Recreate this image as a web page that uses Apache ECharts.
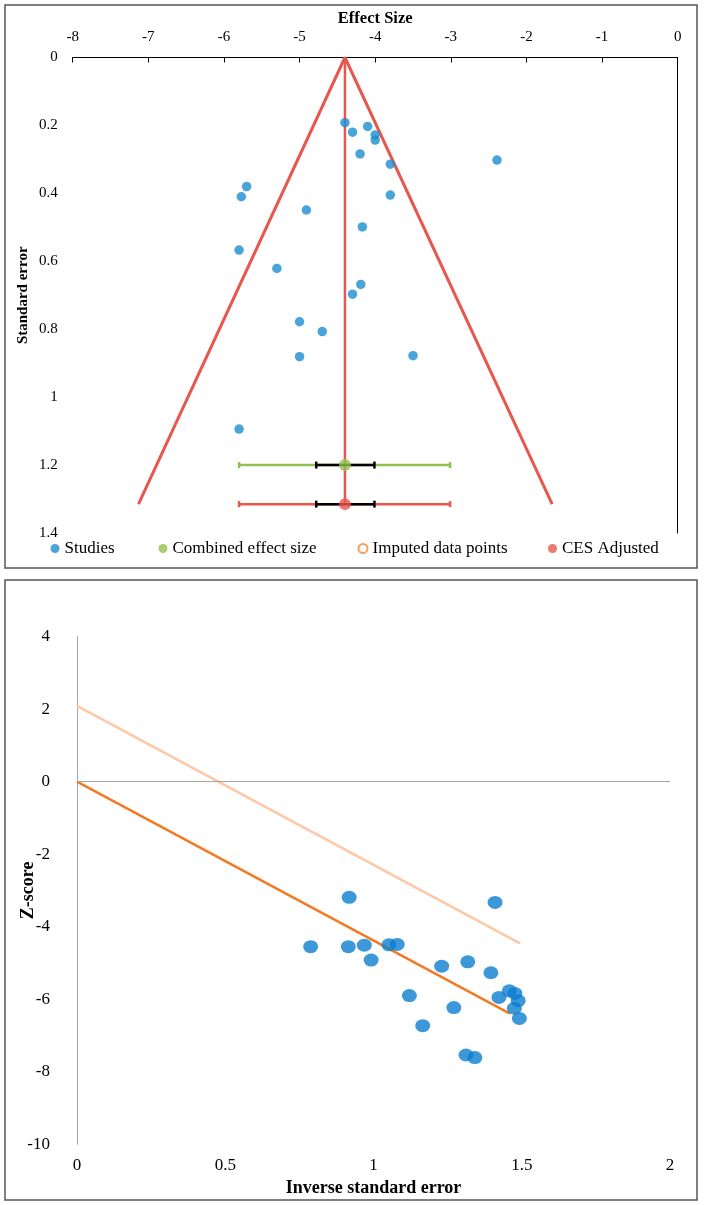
<!DOCTYPE html>
<html>
<head>
<meta charset="utf-8">
<script src="https://cdn.jsdelivr.net/npm/echarts@6/dist/echarts.min.js"></script>
<style>
  html, body { margin: 0; padding: 0; background: #fff; }
  #chart { width: 705px; height: 1205px; }
</style>
</head>
<body>
<div id="chart"></div>
<script>
// ---------- Data: funnel plot (top) ----------
const studyEffect = [-4.40, -4.30, -4.10, -4.00, -4.00, -4.20, -3.80, -2.39, -5.70, -5.77, -3.80,
                     -4.91, -4.17, -5.80, -5.30, -4.19, -4.30, -5.00, -4.70, -5.00, -3.50, -5.80];
const studySE     = [0.192, 0.220, 0.203, 0.228, 0.243, 0.284, 0.314, 0.302, 0.380, 0.410, 0.405,
                     0.449, 0.499, 0.567, 0.621, 0.668, 0.697, 0.778, 0.807, 0.881, 0.878, 1.094];
// combined effect size: [effect, se]; CI and prediction interval [low, high]
const combinedPoint = [-4.40, 1.20];
const combinedCI    = [-4.78, -4.01];
const combinedPI    = [-5.80, -3.01];
// CES adjusted
const adjustedPoint = [-4.40, 1.315];
const adjustedCI    = [-4.78, -4.01];
const adjustedPI    = [-5.80, -3.01];
// funnel outline
const funnelX  = [-7.13, -4.40, -1.66];
const funnelSE = [1.315, 0, 1.315];
const imputedEffect = [];
const imputedSE = [];

// ---------- Data: Galbraith-type plot (bottom) ----------
const invSE  = [0.788, 0.915, 0.918, 0.969, 0.992, 1.052, 1.080, 1.121, 1.166, 1.230, 1.271,
                1.318, 1.312, 1.342, 1.396, 1.410, 1.423, 1.458, 1.477, 1.488, 1.475, 1.492];
const zScore = [-4.55, -4.55, -3.19, -4.51, -4.92, -4.50, -4.49, -5.90, -6.73, -5.09, -6.23,
                -4.97, -7.54, -7.61, -5.27, -3.33, -5.95, -5.77, -5.84, -6.04, -6.25, -6.53];
const regLineX   = [0, 1.46];
const regLineY   = [0, -6.40];
const upperLineX = [0, 1.494];
const upperLineY = [2.09, -4.46];

// ---------- Build ----------
const zip = (a, b) => a.map((v, i) => [v, b[i]]);
const SERIF = '"Liberation Serif", "DejaVu Serif", serif';
const RED = '#E8574F', GREEN = '#92C050', BLUE = '#1B8DCF', ORANGE = '#F37A22';

function errorBarSeries(pi, ci, y, color) {
  return {
    type: 'custom', xAxisIndex: 0, yAxisIndex: 0, silent: true, z: 4,
    data: [[pi[0], pi[1], y, ci[0], ci[1]]],
    encode: { x: [0, 1], y: 2 },
    renderItem: function (params, api) {
      const yv = api.value(2);
      const a = api.coord([api.value(0), yv]);
      const b = api.coord([api.value(1), yv]);
      const c = api.coord([api.value(3), yv]);
      const d = api.coord([api.value(4), yv]);
      const cap = 3;
      const ls = { stroke: color, lineWidth: 2.5 };
      const ks = { stroke: '#000', lineWidth: 2.5 };
      return {
        type: 'group',
        children: [
          { type: 'line', shape: { x1: a[0], y1: a[1], x2: b[0], y2: b[1] }, style: ls },
          { type: 'line', shape: { x1: a[0], y1: a[1] - cap, x2: a[0], y2: a[1] + cap }, style: ls },
          { type: 'line', shape: { x1: b[0], y1: b[1] - cap, x2: b[0], y2: b[1] + cap }, style: ls },
          { type: 'line', shape: { x1: c[0], y1: c[1], x2: d[0], y2: d[1] }, style: ks },
          { type: 'line', shape: { x1: c[0], y1: c[1] - 3.5, x2: c[0], y2: c[1] + 3.5 }, style: ks },
          { type: 'line', shape: { x1: d[0], y1: d[1] - 3.5, x2: d[0], y2: d[1] + 3.5 }, style: ks }
        ]
      };
    }
  };
}

function legendAt(name, left, extra) {
  return Object.assign({
    left: left, top: 540, padding: 0, itemWidth: 9, itemHeight: 9,
    selectedMode: false, icon: 'circle',
    textStyle: { fontFamily: SERIF, fontSize: 17, color: '#000' },
    data: [name]
  }, extra || {});
}

const chart = echarts.init(document.getElementById('chart'), null, { renderer: 'canvas' });
chart.setOption({
  backgroundColor: '#fff',
  animation: false,
  graphic: [
    { type: 'rect', shape: { x: 5, y: 5, width: 692, height: 563 }, style: { fill: 'none', stroke: '#555', lineWidth: 1.5 }, silent: true },
    { type: 'rect', shape: { x: 5, y: 580, width: 692, height: 620 }, style: { fill: 'none', stroke: '#555', lineWidth: 1.5 }, silent: true }
  ],
  legend: [
    legendAt('Studies', 50.5),
    legendAt('Combined effect size', 158.5),
    legendAt('Imputed data points', 357.5, {
      data: [{ name: 'Imputed data points', icon: 'circle', itemStyle: { color: '#fff', borderColor: '#F0883A', borderWidth: 2 } }]
    }),
    legendAt('CES Adjusted', 548)
  ],
  grid: [
    { left: 72.7, top: 57.5, width: 605, height: 475.5, outerBoundsMode: 'none', containLabel: false },
    { left: 77, top: 636.7, width: 593, height: 507.5, outerBoundsMode: 'none', containLabel: false }
  ],
  xAxis: [
    {
      gridIndex: 0, type: 'value', position: 'top', min: -8, max: 0, interval: 1,
      axisLine: { show: true, onZero: false, lineStyle: { color: '#000', width: 1 } },
      axisTick: { show: true, inside: true, length: 5, lineStyle: { color: '#000' } },
      axisLabel: { fontFamily: SERIF, fontSize: 15, color: '#000', margin: 13 },
      splitLine: { show: false },
      name: 'Effect Size', nameLocation: 'middle', nameGap: 30, nameMoveOverlap: false,
      nameTextStyle: { fontFamily: SERIF, fontSize: 16.5, fontWeight: 'bold', color: '#000' }
    },
    {
      gridIndex: 1, type: 'value', position: 'bottom', min: 0, max: 2, interval: 0.5,
      axisLine: { show: false }, axisTick: { show: false },
      axisLabel: { fontFamily: SERIF, fontSize: 17, color: '#000', margin: 13 },
      splitLine: { show: false },
      name: 'Inverse standard error', nameLocation: 'middle', nameGap: 35, nameMoveOverlap: false,
      nameTextStyle: { fontFamily: SERIF, fontSize: 18, fontWeight: 'bold', color: '#000' }
    }
  ],
  yAxis: [
    {
      gridIndex: 0, type: 'value', inverse: true, min: 0, max: 1.4, interval: 0.2, position: 'left',
      axisLine: { show: false }, axisTick: { show: false },
      axisLabel: { fontFamily: SERIF, fontSize: 15, color: '#000', margin: 15 },
      splitLine: { show: false },
      name: 'Standard error', nameLocation: 'middle', nameGap: 42, nameRotate: 90, nameMoveOverlap: false,
      nameTextStyle: { fontFamily: SERIF, fontSize: 15, fontWeight: 'bold', color: '#000' }
    },
    {
      gridIndex: 0, type: 'value', inverse: true, min: 0, max: 1.4, interval: 0.2, position: 'right',
      axisLine: { show: true, onZero: false, lineStyle: { color: '#000', width: 1 } },
      axisTick: { show: false }, axisLabel: { show: false }, splitLine: { show: false }
    },
    {
      gridIndex: 1, type: 'value', min: -10, max: 4, interval: 2, position: 'left',
      axisLine: { show: true, onZero: false, lineStyle: { color: '#A6A6A6', width: 1 } },
      axisTick: { show: false },
      axisLabel: { fontFamily: SERIF, fontSize: 17, color: '#000', margin: 27 },
      splitLine: { show: false },
      name: 'Z-score', nameLocation: 'middle', nameGap: 40, nameRotate: 90, nameMoveOverlap: false,
      nameTextStyle: { fontFamily: SERIF, fontSize: 18, fontWeight: 'bold', color: '#000' }
    }
  ],
  series: [
    {
      name: 'funnel', type: 'line', xAxisIndex: 0, yAxisIndex: 0, z: 2, silent: true,
      data: zip(funnelX, funnelSE), showSymbol: false, symbol: 'none',
      lineStyle: { color: RED, width: 3 }
    },
    {
      name: 'centre', type: 'line', xAxisIndex: 0, yAxisIndex: 0, z: 2, silent: true,
      data: [[adjustedPoint[0], 0], adjustedPoint], showSymbol: false, symbol: 'none',
      lineStyle: { color: RED, width: 2.5 }
    },
    errorBarSeries(combinedPI, combinedCI, combinedPoint[1], GREEN),
    errorBarSeries(adjustedPI, adjustedCI, adjustedPoint[1], RED),
    {
      name: 'Studies', type: 'scatter', xAxisIndex: 0, yAxisIndex: 0, z: 5,
      data: zip(studyEffect, studySE), symbolSize: 9.5,
      itemStyle: { color: BLUE }
    },
    {
      name: 'Combined effect size', type: 'scatter', xAxisIndex: 0, yAxisIndex: 0, z: 6,
      data: [combinedPoint], symbolSize: 12, itemStyle: { color: GREEN }
    },
    {
      name: 'Imputed data points', type: 'scatter', xAxisIndex: 0, yAxisIndex: 0, z: 6,
      data: zip(imputedEffect, imputedSE), symbolSize: 9,
      itemStyle: { color: '#fff', borderColor: '#F0883A', borderWidth: 2 }
    },
    {
      name: 'CES Adjusted', type: 'scatter', xAxisIndex: 0, yAxisIndex: 0, z: 6,
      data: [adjustedPoint], symbolSize: 12, itemStyle: { color: RED }
    },
    {
      name: 'upper', type: 'line', xAxisIndex: 1, yAxisIndex: 2, z: 2, silent: true,
      data: zip(upperLineX, upperLineY), showSymbol: false, symbol: 'none',
      lineStyle: { color: '#FDC8A6', width: 2.5 }
    },
    {
      name: 'regression', type: 'line', xAxisIndex: 1, yAxisIndex: 2, z: 2, silent: true,
      data: zip(regLineX, regLineY), showSymbol: false, symbol: 'none',
      lineStyle: { color: ORANGE, width: 2.5 }
    },
    {
      name: 'z-points', type: 'scatter', xAxisIndex: 1, yAxisIndex: 2, z: 5,
      data: zip(invSE, zScore), symbol: 'circle', symbolSize: [15, 13],
      itemStyle: { color: '#0C7ECF' },
      markLine: {
        silent: true, symbol: 'none', label: { show: false },
        lineStyle: { color: '#A6A6A6', width: 1, type: 'solid' },
        data: [{ yAxis: 0 }]
      }
    }
  ]
});
</script>
</body>
</html>
